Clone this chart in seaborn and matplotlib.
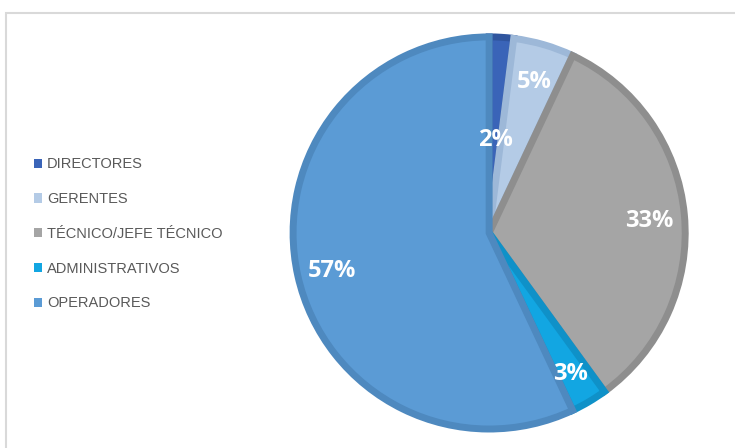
import matplotlib
matplotlib.use("Agg")
import matplotlib.pyplot as plt
import seaborn as sns
import numpy as np

# datos del grafico
categorias = ["DIRECTORES", "GERENTES", "TÉCNICO/JEFE TÉCNICO", "ADMINISTRATIVOS", "OPERADORES"]
porcentajes = [2, 5, 33, 3, 57]
colores = ["#3a64b8", "#b4cbe6", "#a5a5a5", "#12a6e2", "#5b9bd5"]
bordes = ["#30559e", "#9db8d8", "#8e8e8e", "#0f91c8", "#4e89bf"]

sns.set_theme(style="white")
plt.rcParams['font.family'] = ['Liberation Sans', 'DejaVu Sans']

fig = plt.figure(figsize=(7.35, 4.48), dpi=100)
ax = fig.add_axes([0.396, 0.038, 0.539, 0.884])

wedges, texts, autotexts = ax.pie(
    porcentajes, colors=colores, startangle=90, counterclock=False,
    autopct="%d%%", pctdistance=0.82,
    wedgeprops=dict(linewidth=5, edgecolor="none"),
    textprops=dict(color="white", fontsize=17, fontweight="bold",
                   family=["Open Sans", "DejaVu Sans"]))
for w, c in zip(wedges, bordes):
    w.set_edgecolor(c)
    w.set_joinstyle("miter")

# la etiqueta pequeña de DIRECTORES va mas adentro
x, y = autotexts[0].get_position()
autotexts[0].set_position((x * 0.6, y * 0.6))
for t in autotexts:
    t.set_va("center_baseline")
ax.set_aspect("equal")
ax.set_xlim(-1.01, 1.01)
ax.set_ylim(-1.01, 1.01)

leg = fig.legend(wedges, categorias, loc="center left", bbox_to_anchor=(0.028, 0.478),
                 frameon=False, fontsize=10.5, handlelength=0.6, handleheight=0.6,
                 handletextpad=0.3, labelspacing=1.42, labelcolor="#595959")
for h in leg.legend_handles:
    h.set_linewidth(0)

# marco gris del area del grafico
fig.patches.append(plt.Rectangle((0.008, -0.05), 1.05, 1.021, transform=fig.transFigure,
                                 fill=False, edgecolor="#d9d9d9", linewidth=1.5))

fig.savefig("out.png", dpi=100)
